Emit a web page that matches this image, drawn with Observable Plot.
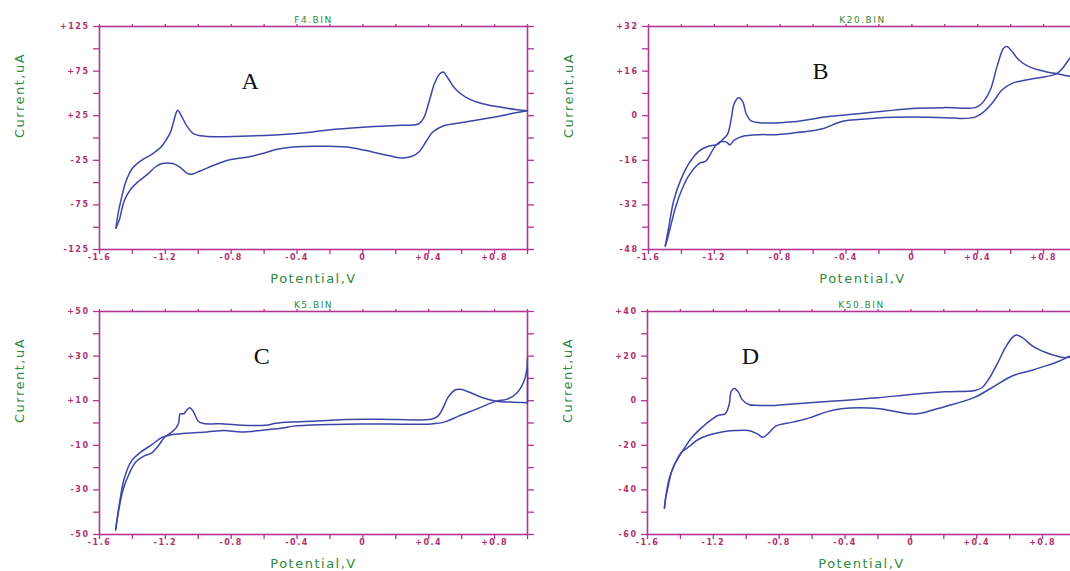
<!DOCTYPE html>
<html><head><meta charset="utf-8">
<script src="https://cdn.jsdelivr.net/npm/d3@7"></script>
<script src="https://cdn.jsdelivr.net/npm/@observablehq/plot@0.6"></script>
<style>
html,body{margin:0;padding:0;background:#fff;}
#fig{position:relative;width:1070px;height:571px;overflow:hidden;background:#fff;}
#fig svg{position:absolute;overflow:visible;}
</style></head><body><div id="fig"></div>
<script>
// ---- tick values / labels ----
const xTickValues = [-1.6, -1.2, -0.8, -0.4, 0, 0.4, 0.8];
const xTickLabels = ["-1.6", "-1.2", "-0.8", "-0.4", "0", "+0.4", "+0.8"];
const xMinorTicks = [-1.6, -1.4, -1.2, -1.0, -0.8, -0.6, -0.4, -0.2, 0, 0.2, 0.4, 0.6, 0.8, 1.0];

const panelTitles = ["F4.BIN", "K20.BIN", "K5.BIN", "K50.BIN"];
const panelLetters = ["A", "B", "C", "D"];
const letterE = [-0.68, -0.55, -0.61, -0.97];
const letterI = [64, 16, 30, 20];

const yDomainA = [-125, 125];
const yDomainB = [-48, 32];
const yDomainC = [-50, 50];
const yDomainD = [-60, 40];
const yLabelTicksA = [125, 75, 25, -25, -75, -125];
const yAllTicksA = [125, 100, 75, 50, 25, 0, -25, -50, -75, -100, -125];
const yLabelTicksB = [32, 16, 0, -16, -32, -48];
const yAllTicksB = [32, 24, 16, 8, 0, -8, -16, -24, -32, -40, -48];
const yLabelTicksC = [50, 30, 10, -10, -30, -50];
const yAllTicksC = [50, 40, 30, 20, 10, 0, -10, -20, -30, -40, -50];
const yLabelTicksD = [40, 20, 0, -20, -40, -60];
const yAllTicksD = [40, 30, 20, 10, 0, -10, -20, -30, -40, -50, -60];

// ---- voltammograms: [potential V, current uA] ----
const aUpper = [[-1.50,-101],[-1.49,-88],[-1.47,-70],[-1.44,-49],[-1.40,-34],[-1.345,-25],[-1.28,-18],[-1.22,-9],[-1.195,-2],[-1.17,6],[-1.15,18],[-1.135,28],[-1.125,31],[-1.104,25.4],[-1.072,14.2],[-1.03,5],[-0.957,2],[-0.74,2],[-0.53,3.5],[-0.32,6.5],[-0.21,9],[0.0,12],[0.2,14],[0.34,16],[0.372,23.5],[0.404,42],[0.435,61],[0.467,72],[0.488,74],[0.519,66.4],[0.561,55.2],[0.624,45.9],[0.728,38.4],[0.833,34.7],[0.937,31.7],[1.0,30.5]];
const aLower = [[1.0,30.5],[0.937,28.5],[0.833,24.6],[0.624,17.9],[0.488,13.4],[0.424,6.7],[0.382,-4.5],[0.34,-15.7],[0.299,-20.5],[0.236,-22.4],[0.163,-20],[0.058,-15.7],[-0.068,-10.8],[-0.214,-9.3],[-0.424,-10],[-0.528,-13],[-0.612,-17.5],[-0.696,-21.3],[-0.821,-25],[-0.905,-30.6],[-0.989,-37],[-1.041,-40.7],[-1.072,-39],[-1.114,-32.5],[-1.156,-28.7],[-1.219,-28.7],[-1.261,-32.5],[-1.303,-40],[-1.366,-49],[-1.407,-56.7],[-1.449,-70],[-1.48,-92],[-1.50,-101]];

const bUpper = [[-1.498,-46.7],[-1.488,-44.9],[-1.467,-40],[-1.436,-32.9],[-1.396,-26.3],[-1.355,-21.5],[-1.293,-17.2],[-1.252,-16.3],[-1.222,-13.6],[-1.191,-10.6],[-1.15,-8.6],[-1.119,-6.5],[-1.099,-1.7],[-1.079,4.4],[-1.052,6.4],[-1.027,5],[-1.007,0.8],[-0.976,-1.9],[-0.925,-2.5],[-0.72,-2.2],[-0.516,-0.4],[-0.312,0.8],[-0.107,2],[0.0,2.6],[0.2,2.9],[0.384,2.9],[0.425,4.4],[0.476,9.2],[0.517,17.6],[0.557,24.2],[0.578,24.8],[0.609,23],[0.65,20],[0.711,17.6],[0.813,15.8],[0.895,14.9],[0.952,14.2],[1.0,14]];
const bLower = [[1.0,24],[0.952,20],[0.915,17],[0.874,14.9],[0.813,14],[0.711,13],[0.609,11.6],[0.547,9.2],[0.486,4.4],[0.425,0.8],[0.384,-0.5],[0.302,-1],[0.2,-0.7],[0.0,-0.5],[-0.209,-0.8],[-0.312,-1.3],[-0.414,-1.9],[-0.475,-3.1],[-0.537,-4.6],[-0.618,-5.5],[-0.72,-6.2],[-0.823,-6.8],[-0.925,-6.8],[-1.027,-7.4],[-1.079,-8.8],[-1.105,-10.4],[-1.13,-9.4],[-1.16,-9.4],[-1.181,-10.3],[-1.232,-10.9],[-1.293,-12.7],[-1.355,-17.2],[-1.406,-23.3],[-1.447,-30.5],[-1.477,-40],[-1.498,-46.7]];

const cUpper = [[-1.502,-47.9],[-1.491,-42.7],[-1.46,-30.7],[-1.418,-22.4],[-1.376,-17.2],[-1.324,-14.6],[-1.282,-13.4],[-1.24,-10],[-1.209,-6.7],[-1.167,-4.4],[-1.135,-2.2],[-1.119,0.1],[-1.11,4.1],[-1.089,4.1],[-1.072,5.6],[-1.052,6.8],[-1.031,5.3],[-1.0,0.8],[-0.968,-0.2],[-0.842,-0.4],[-0.737,-1],[-0.591,-1],[-0.528,-0.1],[-0.424,0.5],[-0.214,1.1],[-0.109,1.6],[0.1,1.7],[0.414,1.7],[0.456,3.1],[0.487,6.8],[0.518,11.6],[0.56,14.8],[0.592,15.1],[0.644,13.9],[0.728,11.3],[0.812,9.8],[0.895,9.4],[1.0,9.1]];
const cLower = [[-1.502,-47.9],[-1.48,-36.7],[-1.449,-24.7],[-1.407,-17.2],[-1.355,-13.4],[-1.282,-9.7],[-1.219,-6.4],[-1.177,-5.5],[-1.114,-4.9],[-0.947,-4],[-0.842,-3.4],[-0.737,-4],[-0.57,-2.9],[-0.486,-2.2],[-0.424,-1.4],[-0.214,-0.7],[-0.005,-0.4],[0.414,-0.4],[0.498,0.5],[0.581,3.1],[0.686,6.1],[0.812,9.8],[0.874,10.6],[0.937,13.6],[0.979,18.8],[0.996,24],[1.0,29.6],[1.0,9.1]];

const dUpper = [[-1.497,-48.2],[-1.493,-45.2],[-1.477,-39.2],[-1.446,-30.2],[-1.395,-23.5],[-1.36,-19.5],[-1.333,-16.7],[-1.272,-12.2],[-1.21,-8.4],[-1.169,-6.5],[-1.128,-5.9],[-1.104,-1.7],[-1.091,4.3],[-1.071,5.5],[-1.046,3.6],[-1.026,0.6],[-0.985,-1.7],[-0.923,-2.1],[-0.821,-2.1],[-0.615,-0.9],[-0.41,0.1],[-0.205,1.3],[0,2.8],[0.205,4],[0.39,4.6],[0.431,5.8],[0.472,9.6],[0.523,16.3],[0.574,23.8],[0.615,28.3],[0.64,29.5],[0.677,28.3],[0.738,24.6],[0.82,21.6],[0.882,20.1],[0.933,19.3],[0.96,19.5],[1.0,20.5]];
const dLower = [[-1.497,-48.2],[-1.487,-42.2],[-1.467,-34.7],[-1.436,-28.7],[-1.395,-23.2],[-1.36,-21.3],[-1.344,-20.4],[-1.292,-17.4],[-1.231,-15.5],[-1.149,-14],[-1.067,-13.4],[-0.985,-13.4],[-0.933,-14.9],[-0.898,-16.4],[-0.862,-14.4],[-0.821,-11.4],[-0.718,-9.6],[-0.615,-7.7],[-0.513,-5],[-0.41,-3.5],[-0.308,-3.2],[-0.205,-3.5],[-0.103,-4.7],[0,-5.9],[0.062,-5.6],[0.164,-3.5],[0.267,-1.4],[0.39,1.6],[0.492,5.8],[0.615,11.1],[0.718,13.3],[0.82,15.6],[0.903,17.8],[0.96,19.8],[1.0,20.5]];

// ---- styles ----
const FRAME = "#b2358f";
const TICKTXT = "#b0306f";
const GREEN = "#2f8a3c";
const BLUE = "#3d45a8";

const panels = [
  {upper: aUpper, lower: aLower, dom: yDomainA, lab: yLabelTicksA, all: yAllTicksA, left: 0,   top: 0,   w: 540, h: 290, ml: 99,  mr: 13, mt: 26, mb: 41},
  {upper: bUpper, lower: bLower, dom: yDomainB, lab: yLabelTicksB, all: yAllTicksB, left: 540, top: 0,   w: 540, h: 290, ml: 108, mr: 4,  mt: 26, mb: 41},
  {upper: cUpper, lower: cLower, dom: yDomainC, lab: yLabelTicksC, all: yAllTicksC, left: 0,   top: 285, w: 540, h: 286, ml: 99,  mr: 13, mt: 26, mb: 37},
  {upper: dUpper, lower: dLower, dom: yDomainD, lab: yLabelTicksD, all: yAllTicksD, left: 540, top: 285, w: 540, h: 286, ml: 107, mr: 5,  mt: 26, mb: 37}
];

const fmtY = v => v > 0 ? "+" + v : String(v);
const fmtX = d => {
  const k = xTickValues.findIndex(v => Math.abs(v - d) < 1e-9);
  return k >= 0 ? xTickLabels[k] : "";
};
const none = () => "";

const fig = document.getElementById("fig");
panels.forEach((p, i) => {
  const svg = Plot.plot({
    width: p.w, height: p.h,
    marginLeft: p.ml, marginRight: p.mr, marginTop: p.mt, marginBottom: p.mb,
    x: {domain: [-1.6, 1.0]},
    y: {domain: p.dom},
    style: {fontFamily: "'DejaVu Sans', sans-serif", letterSpacing: "1.5px", background: "transparent", overflow: "visible"},
    marks: [
      Plot.axisX({anchor: "bottom", ticks: xMinorTicks, tickSize: 5, tickFormat: none, color: FRAME, strokeWidth: 1.3, label: null}),
      Plot.axisX({anchor: "bottom", ticks: xTickValues, tickSize: 0, tickPadding: 5, tickFormat: fmtX, color: TICKTXT, fontSize: 8, fontWeight: 600, label: null}),
      Plot.axisX({anchor: "top", ticks: xMinorTicks, tickSize: 3, tickFormat: none, color: FRAME, strokeWidth: 1.3, label: null}),
      Plot.axisY({anchor: "left", ticks: p.all, tickSize: 6, tickFormat: none, color: FRAME, strokeWidth: 1.3, label: null}),
      Plot.axisY({anchor: "left", ticks: p.lab, tickSize: 0, tickPadding: 10, tickFormat: fmtY, color: TICKTXT, fontSize: 8, fontWeight: 600, label: null}),
      Plot.axisY({anchor: "right", ticks: p.all, tickSize: 6, tickFormat: none, color: FRAME, strokeWidth: 1.3, label: null}),
      Plot.frame({stroke: FRAME, strokeWidth: 1.6}),
      Plot.line(p.upper, {x: d => d[0], y: d => d[1], stroke: BLUE, strokeWidth: 1.5, curve: "catmull-rom"}),
      Plot.line(p.lower, {x: d => d[0], y: d => d[1], stroke: BLUE, strokeWidth: 1.5, curve: "catmull-rom"}),
      Plot.text([panelTitles[i]], {frameAnchor: "top", dy: -10, fill: GREEN, fontSize: 9, ariaLabel: "title"}),
      Plot.text([{e: letterE[i], c: letterI[i], t: panelLetters[i]}], {x: "e", y: "c", text: "t", fontFamily: "'Liberation Serif', 'Times New Roman', serif", fontSize: 24, fill: "#111", ariaLabel: "letter"}),
      Plot.text(["Current,uA"], {frameAnchor: "left", dx: -80, rotate: -90, fill: GREEN, fontSize: 13, ariaLabel: "ylabel"}),
      Plot.text(["Potential,V"], {frameAnchor: "bottom", dy: 33, fill: GREEN, fontSize: 13, ariaLabel: "xlabel"})
    ]
  });
  svg.style.left = p.left + "px";
  svg.style.top = p.top + "px";
  d3.select(svg).selectAll('g[aria-label="title"] text').attr("letter-spacing", "2px");
  d3.select(svg).selectAll('g[aria-label="letter"] text').attr("letter-spacing", "0px");
  d3.select(svg).selectAll('g[aria-label="ylabel"] text, g[aria-label="xlabel"] text').attr("letter-spacing", "1.6px");
  fig.appendChild(svg);
});
</script>
</body></html>
